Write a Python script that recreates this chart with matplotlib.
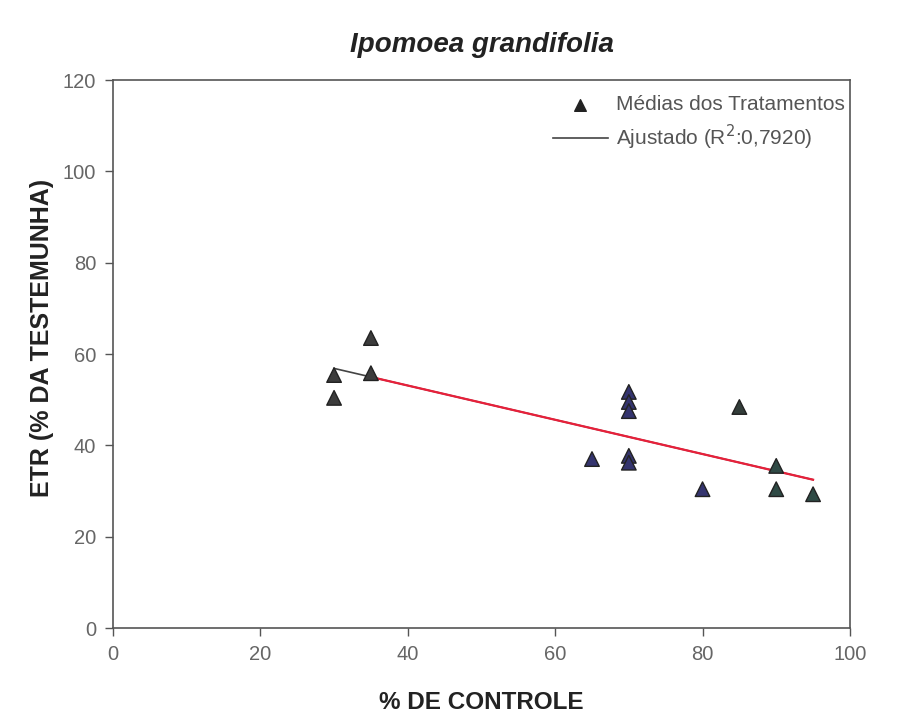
import matplotlib.pyplot as plt
import numpy as np

plt.rcParams['font.family'] = ['Liberation Sans', 'DejaVu Sans']

# treatment means
controle = [30, 30, 35, 35, 65, 70, 70, 70, 70, 70, 80, 85, 90, 90, 95]
etr = [55.4, 50.4, 63.5, 55.8, 37.0, 51.7, 49.5, 47.5, 37.7, 36.2, 30.4, 48.4, 35.5, 30.4, 29.3]
cores = ['#3c3c3c', '#3c3c3c', '#3c3c3c', '#3c3c3c',
         '#34346e', '#34346e', '#34346e', '#34346e', '#34346e', '#34346e',
         '#34346e', '#333d3a', '#2f4a45', '#2f4a45', '#2f4a45']

# linear fit (R2 = 0.7920)
a, b = 68.1, -0.375
x_fit = np.array([30, 95])
x_red = np.array([35, 95])

fig = plt.figure(figsize=(9.09, 7.17), dpi=100)
ax = fig.add_axes([0.1243, 0.1241, 0.8107, 0.7643])

ax.plot(x_fit, a + b * x_fit, color='#444444', lw=1.2, label='Ajustado (R$^2$:0,7920)', zorder=2)
ax.plot(x_red, a + b * x_red, color='#e8203a', lw=1.6, zorder=3)
ax.scatter(controle, etr, marker='^', s=110, c=cores, edgecolors='#222222',
           linewidths=1.0, zorder=4)
ax.scatter([], [], marker='^', s=70, c='#222222', label='Médias dos Tratamentos')

ax.set_xlim(0, 100)
ax.set_ylim(0, 120)
ax.set_xticks(range(0, 101, 20))
ax.set_yticks(range(0, 121, 20))
ax.tick_params(direction='out', length=6, width=1, colors='#555555',
               labelcolor='#666666', labelsize=14.5, pad=6)
for s in ax.spines.values():
    s.set_color('#555555')
    s.set_linewidth(1.2)

ax.set_xlabel('% DE CONTROLE', fontsize=17.5, fontweight='bold', color='#222222', labelpad=20)
ax.set_ylabel('ETR (% DA TESTEMUNHA)', fontsize=18, fontweight='bold', color='#222222')
ax.yaxis.set_label_coords(-0.08, 0.53)
ax.set_title('Ipomoea grandifolia', fontsize=20, fontweight='bold', style='italic',
             color='#222222', pad=20)

h, l = ax.get_legend_handles_labels()
ax.legend(h[::-1], l[::-1], loc='upper right', frameon=False, fontsize=15,
          labelcolor='#555555', handlelength=2.6, handletextpad=0.4,
          labelspacing=0.4, borderaxespad=0.2, bbox_to_anchor=(1.01, 0.995))

fig.savefig('out.png', dpi=100, facecolor='white')
